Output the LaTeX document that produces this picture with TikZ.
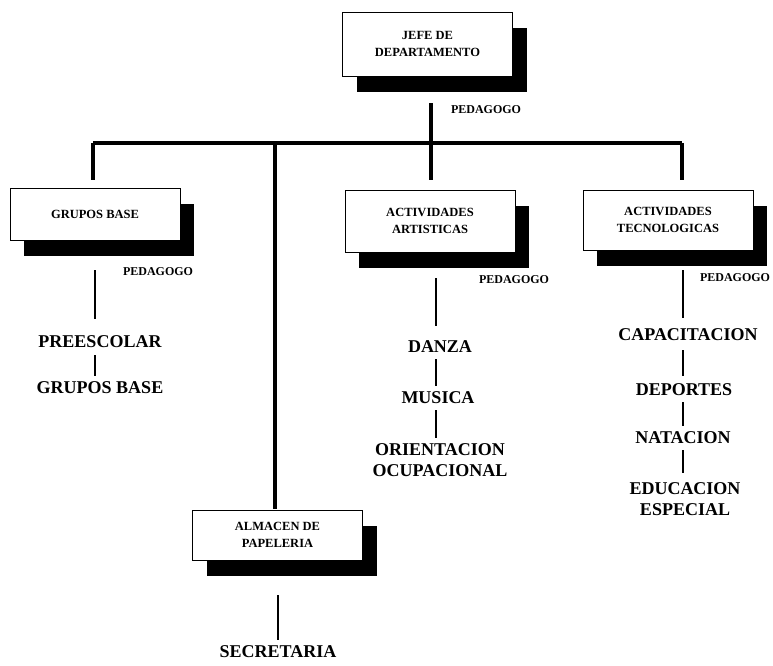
\documentclass[tikz,border=0pt]{standalone}
\usepackage{fontspec}
\setmainfont{Liberation Serif}
\usetikzlibrary{shadows}
\begin{document}
\begin{tikzpicture}[x=1pt,y=-1pt,
  box/.style={draw=black,line width=0.9pt,fill=white,align=center,
    minimum width=170pt,inner sep=2pt,font=\bfseries\fontsize{12.5}{17}\selectfont,
    drop shadow={shadow xshift=14pt,shadow yshift=-16pt,fill=black,opacity=1}},
  item/.style={align=center,inner sep=1pt,font=\bfseries\fontsize{18}{21}\selectfont},
  ped/.style={inner sep=0pt,font=\bfseries\fontsize{12}{14}\selectfont},
  main/.style={line width=3.6pt},
  sub/.style={line width=1.3pt}]
\useasboundingbox (0,0) rectangle (773,665);

% boxes
\node[box,minimum height=64pt] (jefe) at (427.5,44) {JEFE DE\\DEPARTAMENTO};
\node[box,minimum height=52pt] (grupos) at (95,214) {GRUPOS BASE};
\node[box,minimum height=62pt] (art) at (430,221) {ACTIVIDADES\\ARTISTICAS};
\node[box,minimum height=60pt] (tec) at (668,220) {ACTIVIDADES\\TECNOLOGICAS};
\node[box,minimum height=50pt] (alm) at (277.5,535) {ALMACEN DE\\PAPELERIA};

% PEDAGOGO labels
\node[ped] (p0) at (486,110) {PEDAGOGO};
\node[ped] (p1) at (158,272) {PEDAGOGO};
\node[ped] (p2) at (514,280) {PEDAGOGO};
\node[ped] (p3) at (735,278) {PEDAGOGO};

% items
\node[item] (pre) at (100,342) {PREESCOLAR};
\node[item] (gb) at (100,388) {GRUPOS BASE};
\node[item] (dan) at (440,347) {DANZA};
\node[item] (mus) at (438,398) {MUSICA};
\node[item] (ori) at (440,460) {ORIENTACION\\OCUPACIONAL};
\node[item] (cap) at (688,335) {CAPACITACION};
\node[item] (dep) at (684,390) {DEPORTES};
\node[item] (nat) at (683,438) {NATACION};
\node[item] (edu) at (685,499) {EDUCACION\\ESPECIAL};
\node[item] (sec) at (278,652) {SECRETARIA};

% main connectors
\coordinate (jt) at (431,103);
\coordinate (jb) at (431,153);
\coordinate (hL) at (93,143);
\coordinate (hM) at (275,143);
\coordinate (hA) at (431,143);
\coordinate (hT) at (682,143);
\draw[main] (jt) -- (jb);
\draw[main] (hL) -- (hT);
\draw[main,shorten >=8pt] (hL) -- (hL |- grupos.north);
\draw[main,shorten >=1pt] (hM) -- (hM |- alm.north);
\draw[main,shorten >=10pt] (hA) -- (hA |- art.north);
\draw[main,shorten >=10pt] (hT) -- (hT |- tec.north);

% sub connectors
\coordinate (g1) at (95,270);
\coordinate (a1) at (436,278);
\coordinate (t1) at (683,270);
\coordinate (m1) at (278,595);
\draw[sub,shorten >=16pt] (g1) -- (g1 |- pre.north);
\draw[sub,shorten <=6pt,shorten >=5pt] (pre.south -| g1) -- (gb.north -| g1);
\draw[sub,shorten >=14pt] (a1) -- (a1 |- dan.north);
\draw[sub,shorten <=5pt,shorten >=5pt] (dan.south -| a1) -- (mus.north -| a1);
\draw[sub,shorten <=5pt,shorten >=4pt] (mus.south -| a1) -- (ori.north -| a1);
\draw[sub,shorten >=10pt] (t1) -- (t1 |- cap.north);
\draw[sub,shorten <=8pt,shorten >=7pt] (cap.south -| t1) -- (dep.north -| t1);
\draw[sub,shorten <=5pt,shorten >=5pt] (dep.south -| t1) -- (nat.north -| t1);
\draw[sub,shorten <=5pt,shorten >=8pt] (nat.south -| t1) -- (edu.north -| t1);
\draw[sub,shorten >=5pt] (m1) -- (m1 |- sec.north);
\end{tikzpicture}
\end{document}
